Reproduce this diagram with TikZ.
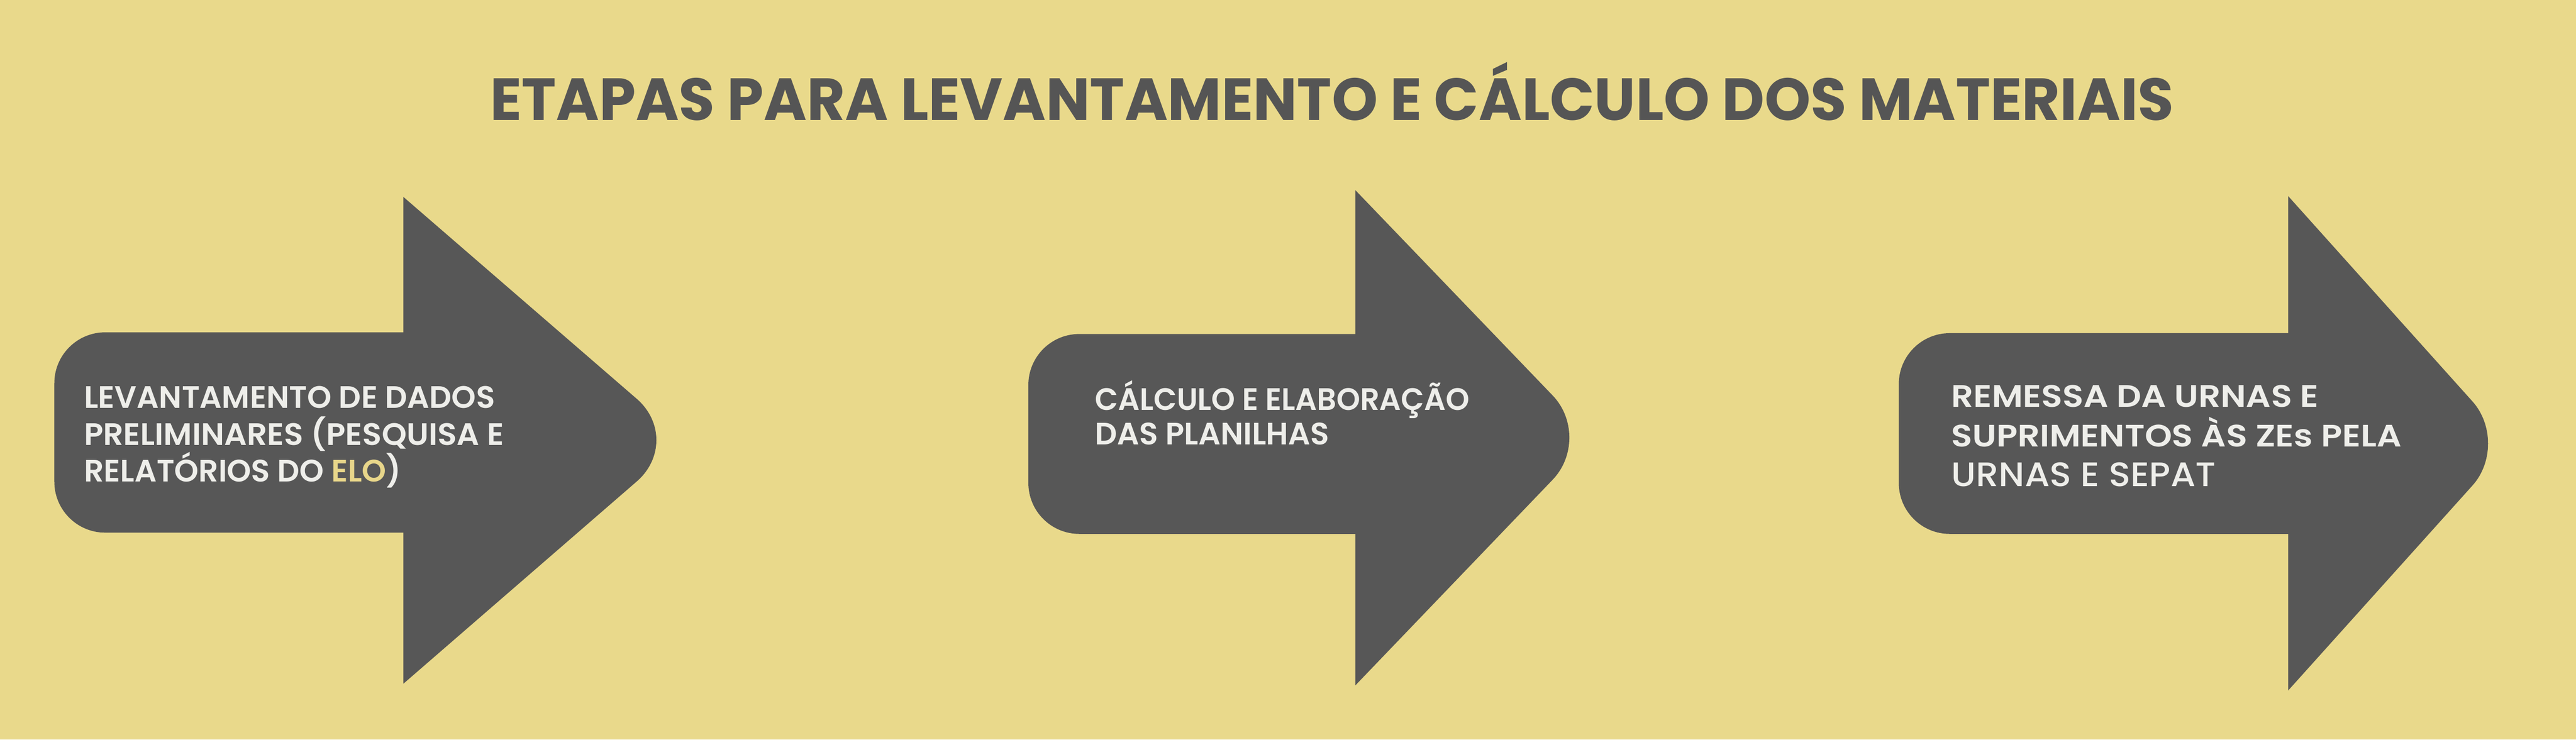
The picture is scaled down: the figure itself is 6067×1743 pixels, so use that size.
\documentclass[tikz,border=0pt]{standalone}
\usepackage{fontspec}
\setmainfont{Poppins}
\newfontfamily\titlefont{Poppins Bold}
\newfontfamily\boxfont{Poppins SemiBold}
\newfontfamily\boxfontalt{Poppins Medium}
\usetikzlibrary{calc}
\definecolor{bgyellow}{HTML}{E9D98B}
\definecolor{arrowgray}{HTML}{575757}
\definecolor{titlegray}{HTML}{555555}
\definecolor{txtwhite}{HTML}{EEEEEA}
\definecolor{elocolor}{HTML}{E8D68A}
\newcommand\fitline[2]{\resizebox{#1}{\height}{#2}}
% #1 L, #2 T, #3 B, #4 H, #5 yt, #6 yb, #7 Ym, #8 Xs
\newcommand\stepshape[8]{%
  \fill[arrowbody] (#1,#2) rectangle (#4+200,#3);
  \fill[arrowhead] (#4,#5) -- ($(#8,#7)!0.17!(#4,#5)$)
    .. controls ($(#8,#7)!0.0765!(#4,#5)$) and ($(#8,#7)!0.0765!(#4,#6)$)
    .. ($(#8,#7)!0.17!(#4,#6)$) -- (#4,#6) -- cycle;
}
\begin{document}
\begin{tikzpicture}[x=0.1pt,y=-0.1pt,
  arrowbody/.style={fill=arrowgray, rounded corners=12pt},
  arrowhead/.style={fill=arrowgray},
  boxtext/.style={anchor=base west, inner sep=0pt, text=txtwhite,
    font=\boxfont\fontsize{7.3pt}{8.6pt}\selectfont},
  boxtextalt/.style={anchor=base west, inner sep=0pt, text=txtwhite,
    font=\boxfontalt\fontsize{8pt}{8.6pt}\selectfont},
  titletext/.style={anchor=base, inner sep=0pt, text=titlegray,
    font=\titlefont\fontsize{14pt}{16pt}\selectfont}]
\useasboundingbox (0,0) rectangle (6067,1743);
\fill[bgyellow] (0,0) rectangle (6067,1743);

\node[titletext] (title) at (3137,283) {\fitline{396.6pt}{ETAPAS PARA LEVANTAMENTO E CÁLCULO DOS MATERIAIS}};

% arrow 1
\stepshape{128}{783}{1255}{950}{464}{1611}{1037}{1612}
\node[boxtext] (s1a) at (196,962) {\fitline{96.8pt}{LEVANTAMENTO DE DADOS}};
\node[boxtext] (s1b) at (196,1049) {\fitline{98.9pt}{PRELIMINARES (PESQUISA E}};
\node[boxtext] (s1c) at (196,1135) {\fitline{74.7pt}{RELATÓRIOS DO {\color{elocolor}ELO})}};

% arrow 2
\stepshape{2422}{787}{1258}{3192}{448}{1615}{1031}{3752}
\node[boxtext] (s2a) at (2577,967) {\fitline{88.2pt}{CÁLCULO E ELABORAÇÃO}};
\node[boxtext] (s2b) at (2577,1048) {\fitline{55.2pt}{DAS PLANILHAS}};

% arrow 3
\stepshape{4472}{785}{1258}{5389}{462}{1627}{1045}{5912}
\node[boxtext] (s3a) at (4594,959) {\fitline{86.5pt}{REMESSA DA URNAS E}};
\node[boxtext] (s3b) at (4594,1053) {\fitline{106pt}{SUPRIMENTOS ÀS ZEs PELA}};
\node[boxtextalt] (s3c) at (4594,1146) {\fitline{62.3pt}{URNAS E SEPAT}};
\end{tikzpicture}
\end{document}
